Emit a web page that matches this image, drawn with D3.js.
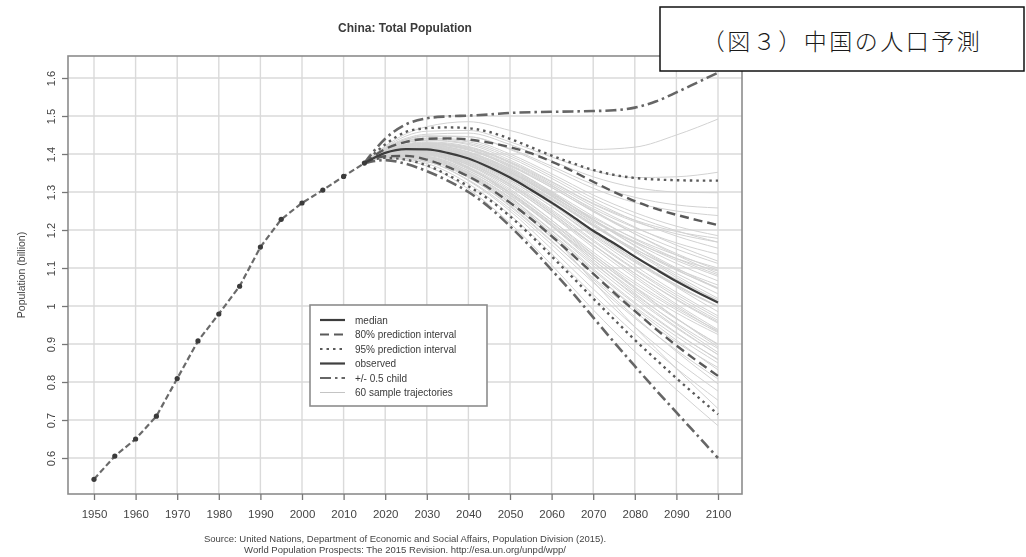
<!DOCTYPE html>
<html>
<head>
<meta charset="utf-8">
<script src="https://cdn.jsdelivr.net/npm/d3@7"></script>
<style>
  html, body { margin: 0; padding: 0; background: #fff; }
  svg { display: block; }
</style>
</head>
<body>
<svg id="chart" width="1026" height="557"></svg>
<script>
// Observed population (billion), 1950-2015
const obsYears = [1950,1955,1960,1965,1970,1975,1980,1985,1990,1995,2000,2005,2010,2015];
const obsPop   = [0.544,0.605,0.650,0.710,0.809,0.908,0.979,1.052,1.155,1.228,1.271,1.305,1.341,1.376];

// Probabilistic projection, 2015-2100 in 5-year steps
const projYears = [2015,2020,2025,2030,2035,2040,2045,2050,2055,2060,2065,2070,2075,2080,2085,2090,2095,2100];
const median     = [1.376,1.403,1.413,1.412,1.403,1.388,1.365,1.338,1.306,1.272,1.236,1.198,1.165,1.130,1.097,1.065,1.036,1.009];
const pi80Upper  = [1.376,1.413,1.432,1.440,1.441,1.438,1.430,1.418,1.402,1.380,1.355,1.327,1.300,1.276,1.256,1.240,1.226,1.213];
const pi80Lower  = [1.376,1.394,1.395,1.385,1.366,1.341,1.310,1.272,1.230,1.184,1.135,1.085,1.035,0.987,0.940,0.896,0.855,0.816];
const pi95Upper  = [1.376,1.425,1.458,1.468,1.470,1.468,1.458,1.440,1.418,1.396,1.376,1.358,1.345,1.337,1.333,1.331,1.330,1.330];
const pi95Lower  = [1.376,1.390,1.385,1.370,1.345,1.315,1.280,1.236,1.186,1.131,1.076,1.020,0.965,0.911,0.860,0.810,0.762,0.715];
const childUpper = [1.376,1.440,1.478,1.494,1.499,1.501,1.504,1.508,1.510,1.511,1.512,1.513,1.515,1.522,1.538,1.562,1.588,1.614];
const childLower = [1.376,1.384,1.374,1.355,1.330,1.300,1.260,1.210,1.155,1.095,1.035,0.970,0.905,0.842,0.780,0.720,0.660,0.600];

// Sample trajectories, values at 2015, 2020 and every decade to 2100
const trajYears = [2015,2020,2030,2040,2050,2060,2070,2080,2090,2100];
const trajectories = [
  [1.376,1.402,1.405,1.365,1.290,1.185,1.065,0.945,0.835,0.730],
  [1.376,1.395,1.385,1.340,1.262,1.170,1.074,0.985,0.905,0.838],
  [1.376,1.408,1.428,1.412,1.365,1.300,1.228,1.160,1.100,1.046],
  [1.376,1.404,1.418,1.398,1.352,1.290,1.222,1.168,1.125,1.092],
  [1.376,1.399,1.398,1.362,1.298,1.214,1.122,1.034,0.952,0.878],
  [1.376,1.414,1.446,1.445,1.412,1.362,1.310,1.272,1.250,1.238],
  [1.376,1.401,1.406,1.378,1.322,1.250,1.170,1.095,1.024,0.962],
  [1.376,1.398,1.394,1.356,1.292,1.212,1.128,1.050,0.982,0.925],
  [1.376,1.406,1.420,1.402,1.356,1.292,1.218,1.146,1.080,1.020],
  [1.376,1.392,1.380,1.330,1.250,1.150,1.045,0.945,0.856,0.776],
  [1.376,1.411,1.436,1.425,1.384,1.328,1.270,1.226,1.196,1.178],
  [1.376,1.403,1.412,1.390,1.342,1.280,1.210,1.145,1.086,1.032],
  [1.376,1.397,1.392,1.352,1.286,1.200,1.112,1.030,0.955,0.888],
  [1.376,1.407,1.425,1.410,1.368,1.312,1.250,1.196,1.150,1.112],
  [1.376,1.400,1.402,1.370,1.308,1.226,1.136,1.050,0.968,0.892],
  [1.376,1.418,1.460,1.462,1.432,1.392,1.356,1.338,1.340,1.352],
  [1.376,1.405,1.416,1.394,1.344,1.276,1.198,1.122,1.050,0.985],
  [1.376,1.396,1.388,1.344,1.272,1.182,1.086,0.994,0.910,0.832],
  [1.376,1.409,1.430,1.418,1.378,1.322,1.262,1.208,1.160,1.118],
  [1.376,1.402,1.408,1.382,1.330,1.262,1.186,1.115,1.052,0.998],
  [1.376,1.394,1.383,1.338,1.265,1.172,1.070,0.972,0.880,0.795],
  [1.376,1.406,1.422,1.405,1.360,1.298,1.226,1.158,1.096,1.045],
  [1.376,1.413,1.442,1.436,1.400,1.348,1.292,1.246,1.210,1.185],
  [1.376,1.399,1.400,1.366,1.304,1.226,1.142,1.064,0.995,0.935],
  [1.376,1.404,1.415,1.395,1.350,1.290,1.226,1.170,1.120,1.078],
  [1.376,1.401,1.404,1.372,1.314,1.240,1.160,1.086,1.018,0.958],
  [1.376,1.410,1.432,1.420,1.380,1.326,1.268,1.222,1.190,1.168],
  [1.376,1.397,1.390,1.348,1.280,1.192,1.098,1.010,0.930,0.858],
  [1.376,1.403,1.410,1.386,1.336,1.268,1.190,1.118,1.055,1.000],
  [1.376,1.416,1.452,1.455,1.425,1.382,1.340,1.312,1.300,1.298],
  [1.376,1.400,1.400,1.364,1.300,1.220,1.135,1.058,0.990,0.930],
  [1.376,1.405,1.418,1.398,1.352,1.288,1.214,1.142,1.075,1.012],
  [1.376,1.391,1.375,1.322,1.240,1.138,1.030,0.928,0.836,0.752],
  [1.376,1.408,1.426,1.412,1.370,1.312,1.248,1.190,1.138,1.094],
  [1.376,1.402,1.410,1.384,1.332,1.262,1.182,1.106,1.036,0.974],
  [1.376,1.398,1.396,1.360,1.298,1.218,1.130,1.046,0.968,0.898],
  [1.376,1.412,1.440,1.432,1.395,1.342,1.284,1.236,1.198,1.168],
  [1.376,1.404,1.414,1.392,1.345,1.282,1.212,1.150,1.098,1.055],
  [1.376,1.395,1.386,1.342,1.270,1.180,1.086,0.998,0.920,0.850],
  [1.376,1.407,1.424,1.406,1.362,1.302,1.236,1.176,1.125,1.082],
  [1.376,1.401,1.406,1.376,1.320,1.246,1.162,1.080,1.005,0.938],
  [1.376,1.421,1.472,1.485,1.462,1.432,1.412,1.418,1.450,1.492],
  [1.376,1.399,1.398,1.362,1.296,1.210,1.116,1.026,0.945,0.872],
  [1.376,1.406,1.420,1.400,1.354,1.294,1.232,1.178,1.134,1.100],
  [1.376,1.403,1.411,1.388,1.338,1.270,1.194,1.122,1.056,0.998],
  [1.376,1.393,1.380,1.332,1.256,1.162,1.062,0.968,0.884,0.808],
  [1.376,1.409,1.428,1.414,1.372,1.316,1.256,1.206,1.166,1.136],
  [1.376,1.400,1.403,1.372,1.314,1.238,1.154,1.074,1.000,0.932],
  [1.376,1.405,1.417,1.396,1.348,1.284,1.214,1.150,1.094,1.048],
  [1.376,1.414,1.448,1.446,1.414,1.368,1.320,1.286,1.266,1.258],
  [1.376,1.398,1.393,1.356,1.292,1.210,1.122,1.040,0.966,0.900],
  [1.376,1.402,1.407,1.380,1.326,1.254,1.174,1.098,1.030,0.968],
  [1.376,1.407,1.423,1.404,1.358,1.296,1.228,1.166,1.112,1.066],
  [1.376,1.396,1.389,1.346,1.276,1.188,1.094,1.006,0.928,0.860],
  [1.376,1.404,1.413,1.390,1.340,1.274,1.200,1.132,1.070,1.016],
  [1.376,1.411,1.437,1.428,1.390,1.336,1.276,1.225,1.184,1.152],
  [1.376,1.389,1.368,1.308,1.218,1.108,0.990,0.880,0.780,0.685],
  [1.376,1.401,1.405,1.375,1.318,1.244,1.162,1.086,1.016,0.955],
  [1.376,1.408,1.428,1.416,1.376,1.318,1.252,1.190,1.134,1.086],
  [1.376,1.397,1.391,1.350,1.284,1.198,1.106,1.020,0.942,0.872]
];

// Axis ticks
const xTicks = [1950,1960,1970,1980,1990,2000,2010,2020,2030,2040,2050,2060,2070,2080,2090,2100];
const yTicks = [0.6,0.7,0.8,0.9,1.0,1.1,1.2,1.3,1.4,1.5,1.6];

// Text
const titleText = "China: Total Population";
const yTitle = "Population (billion)";
const sourceLines = [
  "Source: United Nations, Department of Economic and Social Affairs, Population Division (2015).",
  "World Population Prospects: The 2015 Revision. http://esa.un.org/unpd/wpp/"
];
const legendLabels = ["median","80% prediction interval","95% prediction interval","observed","+/- 0.5 child","60 sample trajectories"];
const captionText = "（図３）中国の人口予測";

const svg = d3.select("#chart");
const font = "'Liberation Sans', Arial, sans-serif";

// soft focus for the chart body
const defs = svg.append("defs");
defs.append("filter").attr("id", "soft")
  .attr("x", "-5%").attr("y", "-5%").attr("width", "110%").attr("height", "110%")
  .append("feGaussianBlur").attr("stdDeviation", 0.7);

const frame = { left: 68, right: 742, top: 56, bottom: 494 };
const x = d3.scaleLinear().domain([1950, 2100]).range([94, 718]);
const y = d3.scaleLinear().domain([0.6, 1.6]).range([458, 78]);

const g = svg.append("g").attr("filter", "url(#soft)");

// grid
g.append("g").selectAll("line").data(xTicks).join("line")
  .attr("x1", d => x(d)).attr("x2", d => x(d))
  .attr("y1", frame.top).attr("y2", frame.bottom)
  .attr("stroke", "#dadada").attr("stroke-width", 1.4);
g.append("g").selectAll("line").data(yTicks).join("line")
  .attr("x1", frame.left).attr("x2", frame.right)
  .attr("y1", d => y(d)).attr("y2", d => y(d))
  .attr("stroke", "#dadada").attr("stroke-width", 1.4);

// sample trajectories
const trajLine = d3.line().x((d, i) => x(trajYears[i])).y(d => y(d)).curve(d3.curveMonotoneX);
g.append("g").selectAll("path").data(trajectories).join("path")
  .attr("d", trajLine)
  .attr("fill", "none").attr("stroke", "#d2d2d2").attr("stroke-width", 1);

const projLine = d3.line().x((d, i) => x(projYears[i])).y(d => y(d)).curve(d3.curveMonotoneX);

const styles = {
  median: { stroke: "#3c3c3c", width: 2.2, dash: null },
  pi80:   { stroke: "#5a5a5a", width: 2.4, dash: "9,5" },
  pi95:   { stroke: "#5a5a5a", width: 2.4, dash: "2.5,4" },
  child:  { stroke: "#666666", width: 2.6, dash: "11,4,2.5,4" },
  obs:    { stroke: "#6a6a6a", width: 2.2, dash: "6,3" },
  traj:   { stroke: "#c4c4c4", width: 1, dash: null }
};

function drawSeries(values, st) {
  g.append("path").datum(values).attr("d", projLine)
    .attr("fill", "none").attr("stroke", st.stroke).attr("stroke-width", st.width)
    .attr("stroke-dasharray", st.dash);
}
drawSeries(childUpper, styles.child);
drawSeries(childLower, styles.child);
drawSeries(pi95Upper, styles.pi95);
drawSeries(pi95Lower, styles.pi95);
drawSeries(pi80Upper, styles.pi80);
drawSeries(pi80Lower, styles.pi80);
drawSeries(median, styles.median);

// observed
const obsLine = d3.line().x((d, i) => x(obsYears[i])).y(d => y(d));
g.append("path").datum(obsPop).attr("d", obsLine)
  .attr("fill", "none").attr("stroke", styles.obs.stroke)
  .attr("stroke-width", styles.obs.width).attr("stroke-dasharray", styles.obs.dash);
g.append("g").selectAll("circle").data(obsPop).join("circle")
  .attr("cx", (d, i) => x(obsYears[i])).attr("cy", d => y(d)).attr("r", 2.6)
  .attr("fill", "#3a3a3a");

// frame
g.append("rect")
  .attr("x", frame.left).attr("y", frame.top)
  .attr("width", frame.right - frame.left).attr("height", frame.bottom - frame.top)
  .attr("fill", "none").attr("stroke", "#8c8c8c").attr("stroke-width", 1.6);

// x axis
const xAxis = g.append("g").attr("transform", `translate(0,${frame.bottom})`)
  .call(d3.axisBottom(x).tickValues(xTicks).tickSize(6).tickPadding(10).tickFormat(d3.format("d")));
xAxis.select(".domain").remove();
xAxis.selectAll("line").attr("stroke", "#777").attr("stroke-width", 1.3);
xAxis.selectAll("text").attr("fill", "#444").style("font-family", font).style("font-size", "11.5px");

// y axis
const yAxis = g.append("g").attr("transform", `translate(${frame.left},0)`)
  .call(d3.axisLeft(y).tickValues(yTicks).tickSize(6).tickFormat(d => d3.format("")(+d.toFixed(1))));
yAxis.select(".domain").remove();
yAxis.selectAll("line").attr("stroke", "#777").attr("stroke-width", 1.3);
yAxis.selectAll("text")
  .attr("fill", "#444").style("font-family", font).style("font-size", "11px")
  .attr("x", null).attr("dy", null)
  .attr("text-anchor", "middle")
  .attr("transform", "translate(-13,0) rotate(-90)");

// axis title
g.append("text").text(yTitle)
  .attr("transform", `translate(21,${(frame.top + frame.bottom) / 2}) rotate(-90)`)
  .attr("text-anchor", "middle").attr("dominant-baseline", "central")
  .attr("fill", "#444").style("font-family", font).style("font-size", "10.5px");

// title
g.append("text").text(titleText)
  .attr("x", 405).attr("y", 32).attr("text-anchor", "middle")
  .attr("fill", "#3a3a3a").style("font-family", font).style("font-size", "12px").style("font-weight", "bold");

// source note
g.append("g").selectAll("text").data(sourceLines).join("text")
  .text(d => d)
  .attr("x", 405).attr("y", (d, i) => 542 + i * 11).attr("text-anchor", "middle")
  .attr("fill", "#444").style("font-family", font).style("font-size", "9.5px");

// legend
const legend = g.append("g");
legend.append("rect")
  .attr("x", 310).attr("y", 305).attr("width", 177).attr("height", 101)
  .attr("fill", "#fff").attr("stroke", "#8c8c8c").attr("stroke-width", 1.6);
const legendStyles = [
  styles.median, styles.pi80, styles.pi95,
  { stroke: "#3f3f3f", width: 2.6, dash: null }, styles.child, styles.traj
];
const rowY = i => 320 + i * 14.5;
legend.selectAll("line").data(legendLabels).join("line")
  .attr("x1", 320).attr("x2", 345)
  .attr("y1", (d, i) => rowY(i)).attr("y2", (d, i) => rowY(i))
  .attr("stroke", (d, i) => legendStyles[i].stroke)
  .attr("stroke-width", (d, i) => Math.min(legendStyles[i].width, 2.2))
  .attr("stroke-dasharray", (d, i) => legendStyles[i].dash);
legend.selectAll("text").data(legendLabels).join("text")
  .text(d => d)
  .attr("x", 355).attr("y", (d, i) => rowY(i)).attr("dominant-baseline", "central")
  .attr("fill", "#3a3a3a").style("font-family", font).style("font-size", "10px");

// caption box
const cap = svg.append("g");
cap.append("rect")
  .attr("x", 660).attr("y", 7).attr("width", 364).attr("height", 64)
  .attr("fill", "#fff").attr("stroke", "#111").attr("stroke-width", 1.5);
cap.append("text").text(captionText)
  .attr("x", 842).attr("y", 40).attr("text-anchor", "middle").attr("dominant-baseline", "central")
  .attr("fill", "#1a1a1a").style("font-family", "'Noto Sans CJK JP', sans-serif")
  .style("font-size", "23px").style("font-weight", "300").style("letter-spacing", "2.5px");
</script>
</body>
</html>
